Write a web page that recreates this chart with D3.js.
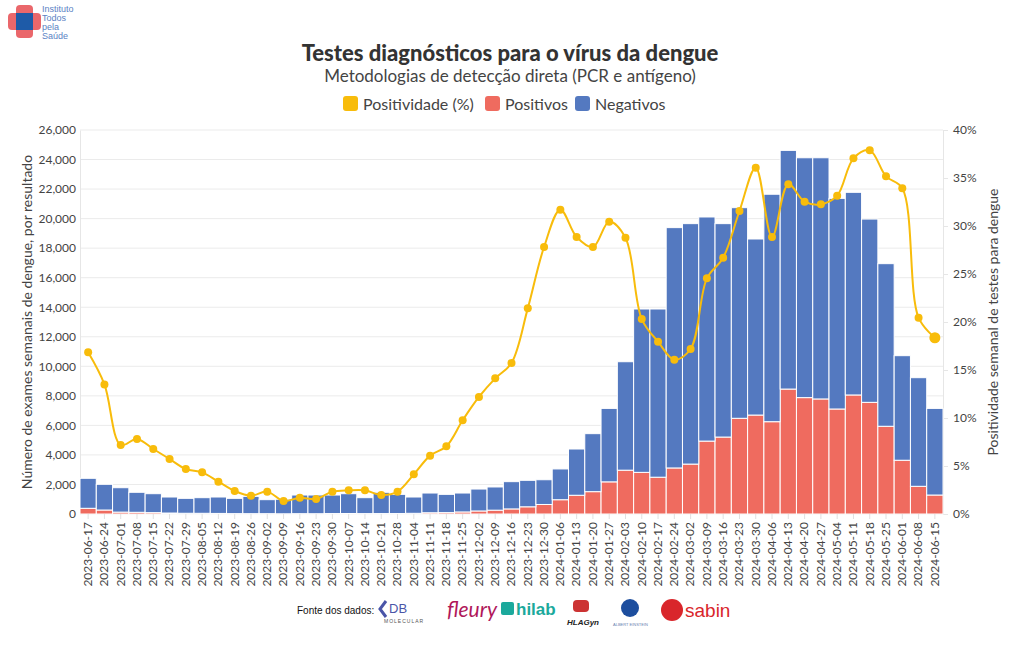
<!DOCTYPE html>
<html>
<head>
<meta charset="utf-8">
<script src="https://cdn.jsdelivr.net/npm/d3@7"></script>
<style>
  body { margin: 0; background: #fff; }
  svg { display: block; font-family: Lato, "Open Sans", sans-serif; }
</style>
</head>
<body>
<svg id="chart" width="1020" height="650"></svg>
<script>
const weeks = ["2023-06-17","2023-06-24","2023-07-01","2023-07-08","2023-07-15","2023-07-22","2023-07-29","2023-08-05","2023-08-12","2023-08-19","2023-08-26","2023-09-02","2023-09-09","2023-09-16","2023-09-23","2023-09-30","2023-10-07","2023-10-14","2023-10-21","2023-10-28","2023-11-04","2023-11-11","2023-11-18","2023-11-25","2023-12-02","2023-12-09","2023-12-16","2023-12-23","2023-12-30","2024-01-06","2024-01-13","2024-01-20","2024-01-27","2024-02-03","2024-02-10","2024-02-17","2024-02-24","2024-03-02","2024-03-09","2024-03-16","2024-03-23","2024-03-30","2024-04-06","2024-04-13","2024-04-20","2024-04-27","2024-05-04","2024-05-11","2024-05-18","2024-05-25","2024-06-01","2024-06-08","2024-06-15"];

const positivos = [386,270,128,115,93,66,50,48,39,25,23,23,14,22,20,30,34,27,29,31,47,86,94,139,206,259,344,488,645,967,1269,1513,2177,2967,2819,2491,3118,3380,4937,5210,6480,6700,6250,8460,7880,7790,7110,8060,7560,5940,3640,1875,1285];

const negativos = [2031,1740,1652,1355,1282,1084,1010,1057,1111,1035,1172,947,986,1263,1265,1255,1341,1078,1441,1299,1103,1334,1236,1281,1484,1571,1846,1792,1675,2083,3131,3927,4973,7343,11061,11389,16272,16280,15173,14450,14260,11920,15400,16160,16240,16330,14260,13720,12410,11010,7080,7355,5865];

const positividade = [16.84,13.5,7.19,7.81,6.77,5.73,4.69,4.34,3.37,2.4,1.91,2.33,1.35,1.7,1.56,2.33,2.47,2.47,1.98,2.33,4.13,6.08,7.05,9.76,12.19,14.13,15.73,21.42,27.81,31.7,28.85,27.81,30.45,28.78,20.31,17.95,16.08,17.19,24.55,26.7,31.56,36.08,28.85,34.34,32.53,32.26,33.16,37.05,37.88,35.17,33.92,20.45,18.36];

const leftTicks = [0,2000,4000,6000,8000,10000,12000,14000,16000,18000,20000,22000,24000,26000];
const rightTicks = [0,5,10,15,20,25,30,35,40];

const seriesNames = ["Positividade (%)", "Positivos", "Negativos"];
const colors = { line: "#F8BC0B", pos: "#EF6B5F", neg: "#5479C0" };

const svg = d3.select("#chart");
const M = { left: 80, right: 943, top: 130, bottom: 514 };

const x = d3.scaleBand().domain(weeks).range([M.left, M.right]).padding(0);
const yL = d3.scaleLinear().domain([0, 26000]).range([M.bottom, M.top]);
const yR = d3.scaleLinear().domain([0, 40]).range([M.bottom, M.top]);

// gridlines
svg.append("g").selectAll("line").data(leftTicks).join("line")
  .attr("x1", M.left).attr("x2", M.right)
  .attr("y1", d => yL(d)).attr("y2", d => yL(d))
  .attr("stroke", "#ebebeb").attr("stroke-width", 1);

// left axis
const axL = svg.append("g").attr("transform", `translate(${M.left},0)`)
  .call(d3.axisLeft(yL).tickValues(leftTicks).tickFormat(d3.format(",")).tickSize(0).tickPadding(4));
axL.select(".domain").attr("stroke", "#e6e6e6");
axL.selectAll("text").attr("fill", "#444").attr("font-size", 12).attr("font-family", "Lato, sans-serif");

// right axis
const axR = svg.append("g").attr("transform", `translate(${M.right},0)`)
  .call(d3.axisRight(yR).tickValues(rightTicks).tickFormat(d => d + "%").tickSize(5).tickPadding(5));
axR.select(".domain").attr("stroke", "#e6e6e6");
axR.selectAll(".tick line").attr("stroke", "#e6e6e6");
axR.selectAll("text").attr("fill", "#444").attr("font-size", 12).attr("font-family", "Lato, sans-serif");

// bars
const rows = weeks.map((w, i) => ({ w, pos: positivos[i], neg: negativos[i] }));
const gb = svg.append("g");
gb.selectAll("rect.pos").data(rows).join("rect").attr("class", "pos")
  .attr("x", d => x(d.w)).attr("width", x.bandwidth())
  .attr("y", d => yL(d.pos)).attr("height", d => yL(0) - yL(d.pos))
  .attr("fill", colors.pos).attr("stroke", "#fff").attr("stroke-width", 1);
gb.selectAll("rect.neg").data(rows).join("rect").attr("class", "neg")
  .attr("x", d => x(d.w)).attr("width", x.bandwidth())
  .attr("y", d => yL(d.pos + d.neg)).attr("height", d => yL(d.pos) - yL(d.pos + d.neg))
  .attr("fill", colors.neg).attr("stroke", "#fff").attr("stroke-width", 1);

// bottom axis
const axB = svg.append("g").attr("transform", `translate(0,${M.bottom})`)
  .call(d3.axisBottom(x).tickSize(5).tickPadding(3));
axB.select(".domain").remove();
axB.selectAll(".tick line").attr("stroke", "#e0e0e0");
axB.selectAll("text")
  .attr("fill", "#444").attr("font-size", 12).attr("font-family", "Lato, sans-serif")
  .attr("transform", "rotate(-90)")
  .attr("text-anchor", "end").attr("dy", "0.32em").attr("x", -8).attr("y", 0);

// positivity line
const pts = weeks.map((w, i) => ({ w, v: positividade[i] }));
const line = d3.line().x(d => x(d.w) + x.bandwidth() / 2).y(d => yR(d.v))
  .curve(d3.curveCatmullRom.alpha(0.5));
svg.append("path").datum(pts).attr("d", line)
  .attr("fill", "none").attr("stroke", colors.line).attr("stroke-width", 2);
svg.append("g").selectAll("circle").data(pts).join("circle")
  .attr("cx", d => x(d.w) + x.bandwidth() / 2).attr("cy", d => yR(d.v))
  .attr("r", (d, i) => i === pts.length - 1 ? 5.5 : 4)
  .attr("fill", colors.line);

// axis titles
svg.append("text").attr("transform", `translate(32,${(M.top + M.bottom) / 2}) rotate(-90)`)
  .attr("text-anchor", "middle").attr("font-size", 14).attr("fill", "#444")
  .text("Número de exames semanais de dengue, por resultado");
svg.append("text").attr("transform", `translate(998,${(M.top + M.bottom) / 2}) rotate(-90)`)
  .attr("text-anchor", "middle").attr("font-size", 14).attr("fill", "#444")
  .text("Positividade semanal de testes para dengue");

// title
svg.append("text").attr("x", 510).attr("y", 61).attr("text-anchor", "middle")
  .attr("font-size", 22).attr("font-weight", 900).attr("fill", "#333")
  .text("Testes diagnósticos para o vírus da dengue");
svg.append("text").attr("x", 510).attr("y", 82).attr("text-anchor", "middle")
  .attr("font-size", 17).attr("fill", "#444")
  .text("Metodologias de detecção direta (PCR e antígeno)");

// legend
const legItems = [
  { name: seriesNames[0], c: colors.line, x: 343 },
  { name: seriesNames[1], c: colors.pos, x: 485 },
  { name: seriesNames[2], c: colors.neg, x: 575 }
];
const lg = svg.append("g");
legItems.forEach(it => {
  lg.append("rect").attr("x", it.x).attr("y", 96).attr("width", 15).attr("height", 15)
    .attr("rx", 3).attr("fill", it.c);
  lg.append("text").attr("x", it.x + 20).attr("y", 109.5).attr("font-size", 16)
    .attr("fill", "#444").text(it.name);
});

// top-left logo
const logo = svg.append("g");
logo.append("rect").attr("x", 8).attr("y", 13).attr("width", 33).attr("height", 17).attr("rx", 4).attr("fill", "#E8575B").attr("opacity", 0.9);
logo.append("rect").attr("x", 16).attr("y", 5).attr("width", 17).attr("height", 33).attr("rx", 4).attr("fill", "#E8575B").attr("opacity", 0.9);
logo.append("rect").attr("x", 16).attr("y", 13).attr("width", 17).attr("height", 17).attr("fill", "#1E5BA8");
["Instituto", "Todos", "pela", "Saúde"].forEach((t, i) => {
  logo.append("text").attr("x", 42).attr("y", 12 + i * 9).attr("font-size", 9)
    .attr("font-family", "Liberation Sans, sans-serif").attr("fill", "#5b82c4").text(t);
});

// footer
const ft = svg.append("g").attr("font-family", "Liberation Sans, Arial, sans-serif");
ft.append("text").attr("x", 297).attr("y", 614).attr("font-size", 10).attr("fill", "#111").text("Fonte dos dados:");
ft.append("path").attr("d", "M386,601 L380,609 L386,617").attr("fill", "none").attr("stroke", "#4a55a8").attr("stroke-width", 3);
ft.append("text").attr("x", 389).attr("y", 613).attr("font-size", 13).attr("fill", "#4a55a8").text("DB");
ft.append("text").attr("x", 384).attr("y", 623).attr("font-size", 5).attr("letter-spacing", 1).attr("fill", "#555").text("MOLECULAR");
ft.append("text").attr("x", 447).attr("y", 617).attr("font-size", 21).attr("font-style", "italic").attr("fill", "#B0175A").attr("font-family", "Lato, sans-serif").text("fleury");
ft.append("rect").attr("x", 501).attr("y", 602).attr("width", 13).attr("height", 13).attr("rx", 2).attr("fill", "#1BA99C");
ft.append("text").attr("x", 516).attr("y", 615).attr("font-size", 17).attr("font-weight", "bold").attr("fill", "#1BA99C").text("hilab");
ft.append("rect").attr("x", 573).attr("y", 600).attr("width", 16).attr("height", 12).attr("rx", 4).attr("fill", "#c33");
ft.append("text").attr("x", 567).attr("y", 625).attr("font-size", 8).attr("font-weight", "bold").attr("font-style", "italic").attr("fill", "#222").text("HLAGyn");
ft.append("circle").attr("cx", 630).attr("cy", 608).attr("r", 9).attr("fill", "#1D4E9E");
ft.append("text").attr("x", 613).attr("y", 626).attr("font-size", 4).attr("fill", "#6a7fb0").text("ALBERT EINSTEIN");
ft.append("circle").attr("cx", 672).attr("cy", 610).attr("r", 11).attr("fill", "#D9262B");
ft.append("text").attr("x", 685).attr("y", 617).attr("font-size", 19).attr("fill", "#D9262B").text("sabin");
</script>
</body>
</html>
